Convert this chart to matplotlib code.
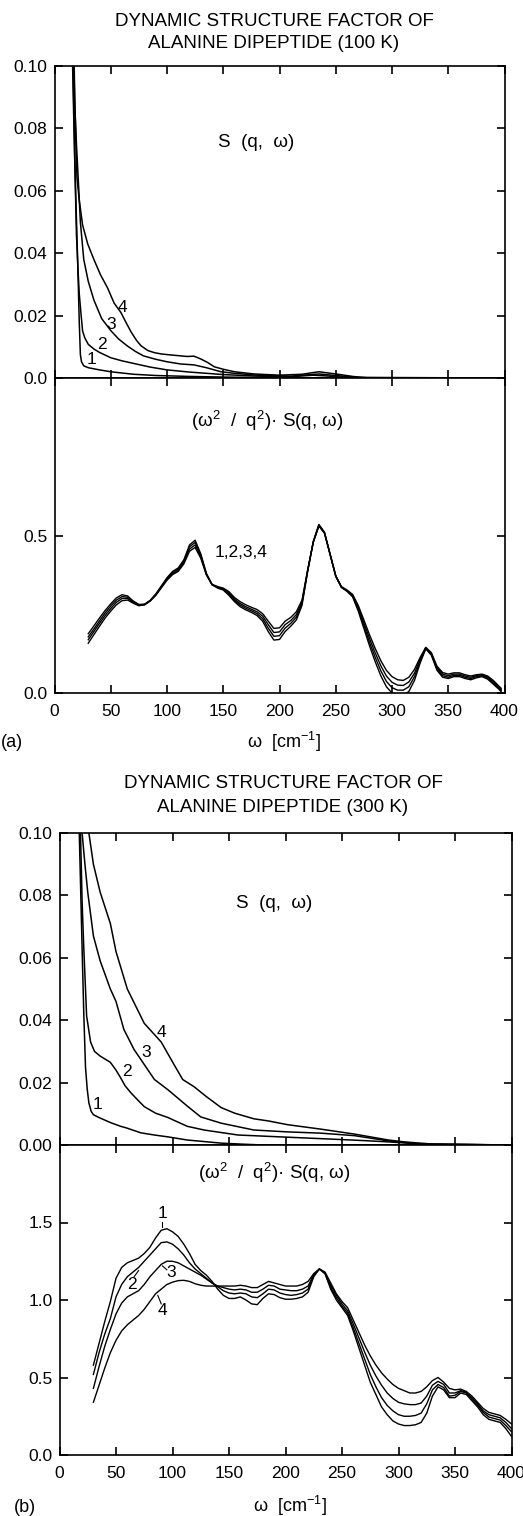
import matplotlib
matplotlib.use("Agg")
import matplotlib.pyplot as plt
import numpy as np

plt.rcParams['font.family'] = ['Liberation Sans', 'DejaVu Sans']
plt.rcParams['font.size'] = 12

# ---------------- panel (a): 100 K ----------------
# S(q, w) curves 1..4 (each with its own frequency points, cm^-1)
a_s1_w = [15.5, 17, 18, 19, 20, 21, 22, 23, 24, 26, 30, 40, 50, 70, 90, 120, 150, 200, 250, 400]
a_s1 = [0.11, 0.085, 0.07, 0.057, 0.045, 0.032, 0.018, 0.0075, 0.0052, 0.0039, 0.0033, 0.0026, 0.002,
        0.0012, 0.0008, 0.0005, 0.0003, 0.0001, 0.0, 0.0]
a_s2_w = [16, 17, 18, 19.5, 21, 22, 23.7, 25, 27, 30, 35, 40, 50, 60, 70, 85, 100, 120, 150, 180,
          210, 230, 240, 260, 400]
a_s2 = [0.11, 0.09, 0.07, 0.046, 0.034, 0.027, 0.02, 0.015, 0.0128, 0.0108, 0.0093, 0.0082, 0.0065,
        0.0055, 0.0047, 0.0035, 0.0026, 0.0019, 0.0011, 0.0006, 0.0004, 0.0009, 0.0007, 0.0002, 0.0]
a_s3_w = [16.5, 18, 19.5, 21.5, 23, 26, 30, 35, 42, 50, 57, 65, 72, 79, 90, 100, 112, 124, 135, 148,
          160, 180, 210, 235, 250, 270, 400]
a_s3 = [0.11, 0.088, 0.075, 0.061, 0.05, 0.038, 0.031, 0.025, 0.019, 0.0152, 0.0125, 0.0102, 0.0085,
        0.0071, 0.006, 0.0052, 0.0045, 0.0042, 0.0033, 0.002, 0.0015, 0.0009, 0.0006, 0.0013, 0.0008,
        0.0001, 0.0]
a_s4_w = [17, 18, 19, 20, 22, 25, 29.5, 35, 41, 47, 53, 59, 64, 68, 73, 77, 83, 89, 95, 103, 112, 118,
          124, 130, 136, 142, 150, 160, 177, 200, 220, 235, 250, 265, 280, 400]
a_s4 = [0.11, 0.09, 0.075, 0.064, 0.057, 0.049, 0.043, 0.038, 0.033, 0.029, 0.024, 0.021, 0.0175,
        0.0148, 0.012, 0.0103, 0.0088, 0.0081, 0.0077, 0.0074, 0.0071, 0.0069, 0.007, 0.0061, 0.005,
        0.0036, 0.0028, 0.002, 0.0013, 0.0009, 0.0012, 0.002, 0.0013, 0.0005, 0.0, 0.0]

# (w^2/q^2) S(q, w), curves 1..4
a_w = [30, 35, 40, 45, 50, 55, 60, 65, 70, 75, 80, 85, 90, 95, 100, 105, 110, 115, 120, 125, 130,
       135, 140, 145, 150, 155, 160, 165, 170, 175, 180, 185, 190, 195, 200, 205, 210, 215, 220, 225,
       230, 235, 240, 245, 250, 255, 260, 265, 270, 275, 280, 285, 290, 295, 300, 305, 310, 315, 320,
       325, 330, 335, 340, 345, 350, 355, 360, 365, 370, 375, 380, 385, 390, 395, 397]
a_f1 = [0.188, 0.213, 0.238, 0.262, 0.283, 0.302, 0.312, 0.308, 0.292, 0.281, 0.282, 0.294, 0.314,
        0.34, 0.366, 0.386, 0.397, 0.423, 0.47, 0.485, 0.442, 0.38, 0.344, 0.333, 0.327, 0.31, 0.29,
        0.274, 0.264, 0.256, 0.246, 0.228, 0.195, 0.168, 0.17, 0.195, 0.212, 0.232, 0.278, 0.385,
        0.48, 0.535, 0.51, 0.44, 0.37, 0.335, 0.323, 0.305, 0.26, 0.205, 0.15, 0.1, 0.055, 0.02, 0.0,
        -0.008, -0.008, 0.005, 0.04, 0.095, 0.14, 0.12, 0.072, 0.05, 0.046, 0.052, 0.052, 0.046,
        0.042, 0.048, 0.052, 0.044, 0.028, 0.012, 0.004]
a_f2 = [0.178, 0.203, 0.229, 0.254, 0.276, 0.295, 0.306, 0.304, 0.29, 0.28, 0.281, 0.293, 0.313,
        0.338, 0.363, 0.383, 0.393, 0.419, 0.464, 0.478, 0.438, 0.378, 0.344, 0.335, 0.329, 0.314,
        0.294, 0.279, 0.269, 0.261, 0.252, 0.236, 0.206, 0.18, 0.182, 0.206, 0.221, 0.241, 0.284,
        0.387, 0.48, 0.534, 0.509, 0.44, 0.371, 0.336, 0.324, 0.308, 0.266, 0.214, 0.161, 0.114,
        0.071, 0.037, 0.017, 0.009, 0.009, 0.02, 0.052, 0.101, 0.142, 0.122, 0.076, 0.055, 0.05,
        0.056, 0.056, 0.05, 0.046, 0.052, 0.055, 0.048, 0.032, 0.015, 0.008]
a_f3 = [0.169, 0.195, 0.221, 0.246, 0.268, 0.288, 0.3, 0.3, 0.288, 0.278, 0.28, 0.292, 0.311, 0.336,
        0.36, 0.379, 0.389, 0.414, 0.457, 0.47, 0.433, 0.376, 0.344, 0.336, 0.331, 0.318, 0.298,
        0.284, 0.274, 0.266, 0.258, 0.244, 0.217, 0.192, 0.194, 0.217, 0.23, 0.249, 0.289, 0.389,
        0.479, 0.532, 0.508, 0.44, 0.372, 0.337, 0.325, 0.31, 0.272, 0.223, 0.173, 0.128, 0.087,
        0.054, 0.034, 0.025, 0.024, 0.035, 0.063, 0.107, 0.144, 0.125, 0.08, 0.06, 0.055, 0.06, 0.06,
        0.054, 0.05, 0.055, 0.058, 0.051, 0.036, 0.018, 0.011]
a_f4 = [0.158, 0.185, 0.212, 0.238, 0.26, 0.28, 0.293, 0.295, 0.285, 0.277, 0.28, 0.292, 0.31, 0.334,
        0.358, 0.376, 0.386, 0.41, 0.45, 0.462, 0.428, 0.375, 0.345, 0.338, 0.333, 0.322, 0.303,
        0.29, 0.28, 0.272, 0.265, 0.252, 0.228, 0.205, 0.207, 0.228, 0.24, 0.258, 0.295, 0.39, 0.478,
        0.53, 0.507, 0.44, 0.372, 0.338, 0.327, 0.313, 0.278, 0.232, 0.185, 0.142, 0.103, 0.072,
        0.052, 0.042, 0.04, 0.05, 0.075, 0.113, 0.145, 0.128, 0.085, 0.065, 0.06, 0.064, 0.064, 0.058,
        0.054, 0.058, 0.06, 0.054, 0.04, 0.022, 0.015]

# ---------------- panel (b): 300 K ----------------
b_s1_w = [16.5, 17.5, 19, 20, 21.5, 23, 24.5, 26, 28, 30, 35, 45, 54, 59, 72, 84, 96, 113, 125, 143,
          160, 180, 400]
b_s1 = [0.11, 0.10, 0.078, 0.063, 0.042, 0.025, 0.018, 0.0135, 0.0108, 0.0097, 0.0088, 0.0072, 0.006,
        0.0055, 0.0039, 0.0032, 0.0026, 0.0016, 0.0012, 0.0006, 0.0003, 0.0, 0.0]
b_s2_w = [17.5, 18.6, 20, 21.5, 24, 27.5, 31, 36, 45, 50, 54, 58, 63, 69, 75, 85, 96, 113, 128, 158,
          202, 246, 270, 291, 320, 400]
b_s2 = [0.11, 0.10, 0.078, 0.063, 0.0414, 0.033, 0.030, 0.0285, 0.0265, 0.024, 0.0216, 0.019, 0.0168,
        0.0145, 0.0123, 0.0102, 0.0088, 0.006, 0.0048, 0.0032, 0.0025, 0.0018, 0.0014, 0.001, 0.0003,
        0.0]
b_s3_w = [19, 20, 22.5, 25, 30, 36, 45, 50, 57, 66, 78, 84, 96, 113, 125, 143, 172, 202, 231, 261,
          291, 320, 400]
b_s3 = [0.11, 0.10, 0.09, 0.081, 0.067, 0.059, 0.05, 0.046, 0.037, 0.0306, 0.0242, 0.021, 0.0177,
        0.0125, 0.009, 0.007, 0.0048, 0.0042, 0.0038, 0.003, 0.0013, 0.0003, 0.0]
b_s4_w = [24, 30, 36, 45, 50, 60, 75, 90, 101, 109, 119, 130, 143, 155, 172, 185, 202, 231, 261, 291,
          305, 330, 400]
b_s4 = [0.105, 0.09, 0.081, 0.071, 0.062, 0.05, 0.039, 0.033, 0.026, 0.021, 0.0187, 0.0155, 0.012,
        0.0102, 0.0084, 0.0077, 0.0065, 0.0051, 0.0035, 0.0016, 0.001, 0.0003, 0.0]

b_w = [30, 35, 40, 45, 50, 55, 60, 65, 70, 75, 80, 85, 90, 95, 100, 105, 110, 115, 120, 125, 130,
       135, 140, 145, 150, 155, 160, 165, 170, 175, 180, 185, 190, 195, 200, 205, 210, 215, 220, 225,
       230, 235, 240, 245, 250, 255, 260, 265, 270, 275, 280, 285, 290, 295, 300, 305, 310, 315, 320,
       325, 330, 335, 340, 345, 350, 355, 360, 365, 370, 375, 380, 385, 390, 395, 400]
b_f1 = [0.58, 0.72, 0.86, 0.99, 1.14, 1.21, 1.24, 1.255, 1.27, 1.30, 1.34, 1.40, 1.45, 1.46, 1.44,
        1.41, 1.36, 1.30, 1.23, 1.19, 1.16, 1.12, 1.07, 1.03, 1.01, 1.01, 1.02, 1.00, 0.975, 0.97, 1.01,
        1.04, 1.035, 1.015, 1.005, 1.005, 1.01, 1.02, 1.05, 1.15, 1.20, 1.17, 1.07, 1.00, 0.95, 0.90,
        0.80, 0.69, 0.58, 0.47, 0.39, 0.31, 0.26, 0.22, 0.20, 0.19, 0.19, 0.195, 0.21, 0.27, 0.38, 0.44,
        0.42, 0.37, 0.37, 0.40, 0.39, 0.35, 0.31, 0.26, 0.23, 0.22, 0.21, 0.17, 0.12]
b_f2 = [0.52, 0.66, 0.78, 0.88, 1.02, 1.10, 1.15, 1.18, 1.21, 1.25, 1.29, 1.33, 1.37, 1.375, 1.36,
        1.33, 1.29, 1.24, 1.20, 1.17, 1.14, 1.11, 1.085, 1.06, 1.045, 1.04, 1.045, 1.04, 1.02, 1.015,
        1.04, 1.07, 1.065, 1.045, 1.035, 1.03, 1.035, 1.045, 1.07, 1.16, 1.20, 1.17, 1.08, 1.015, 0.96,
        0.915, 0.82, 0.72, 0.62, 0.52, 0.44, 0.37, 0.32, 0.285, 0.26, 0.25, 0.25, 0.255, 0.27, 0.33,
        0.42, 0.455, 0.435, 0.38, 0.385, 0.41, 0.40, 0.36, 0.32, 0.275, 0.245, 0.235, 0.225, 0.19, 0.15]
b_f3 = [0.43, 0.57, 0.70, 0.81, 0.91, 0.98, 1.02, 1.04, 1.06, 1.10, 1.15, 1.19, 1.23, 1.25, 1.25,
        1.24, 1.22, 1.20, 1.18, 1.16, 1.135, 1.11, 1.09, 1.08, 1.07, 1.065, 1.07, 1.065, 1.05, 1.05,
        1.07, 1.095, 1.09, 1.07, 1.065, 1.06, 1.06, 1.07, 1.09, 1.165, 1.20, 1.175, 1.095, 1.03, 0.975,
        0.93, 0.845, 0.755, 0.665, 0.58, 0.51, 0.45, 0.40, 0.365, 0.34, 0.33, 0.325, 0.325, 0.335, 0.38,
        0.45, 0.475, 0.455, 0.40, 0.40, 0.415, 0.405, 0.37, 0.33, 0.285, 0.26, 0.25, 0.24, 0.21, 0.17]
b_f4 = [0.34, 0.45, 0.56, 0.66, 0.74, 0.80, 0.84, 0.87, 0.90, 0.94, 0.99, 1.04, 1.07, 1.10, 1.115,
        1.125, 1.127, 1.12, 1.105, 1.095, 1.09, 1.09, 1.09, 1.09, 1.09, 1.09, 1.095, 1.09, 1.08, 1.08,
        1.10, 1.12, 1.11, 1.10, 1.09, 1.09, 1.09, 1.10, 1.12, 1.17, 1.20, 1.18, 1.11, 1.04, 0.99, 0.95,
        0.87, 0.79, 0.71, 0.64, 0.58, 0.53, 0.49, 0.455, 0.43, 0.415, 0.40, 0.40, 0.41, 0.44, 0.48,
        0.50, 0.47, 0.43, 0.42, 0.425, 0.41, 0.38, 0.34, 0.30, 0.275, 0.265, 0.255, 0.23, 0.20]

x_ticks = [0, 50, 100, 150, 200, 250, 300, 350, 400]

W, H = 523.0, 1516.0


def rect(x0, x1, ytop, ybot):
    return [x0 / W, 1 - ybot / H, (x1 - x0) / W, (ybot - ytop) / H]


def style(ax):
    for s in ax.spines.values():
        s.set_linewidth(1.2)
    ax.tick_params(direction='in', length=6, width=1.2, top=True, right=True,
                   labelsize=12.5, pad=5)
    ax.set_xlim(0, 400)
    ax.set_xticks(x_ticks)


fig = plt.figure(figsize=(5.23, 15.16), dpi=100)

panels = [
    dict(x0=54.5, x1=504.5, ytop=66, ymid=378, ybot=693,
         s=[(a_s1_w, a_s1), (a_s2_w, a_s2), (a_s3_w, a_s3), (a_s4_w, a_s4)],
         f=[a_f1, a_f2, a_f3, a_f4], fw=a_w, ylim2=1.0,
         yt1=['0.0', '0.02', '0.04', '0.06', '0.08', '0.10'],
         yt2=[0.0, 0.5, 1.0], yl2=['0.0', '0.5', ''],
         title=("DYNAMIC STRUCTURE FACTOR OF", "ALANINE DIPEPTIDE (100 K)"),
         ty=(21, 43), tx=274, letter='(a)', lx=12, ly=743),
    dict(x0=59.5, x1=511.5, ytop=833, ymid=1145, ybot=1455,
         s=[(b_s1_w, b_s1), (b_s2_w, b_s2), (b_s3_w, b_s3), (b_s4_w, b_s4)],
         f=[b_f1, b_f2, b_f3, b_f4], fw=b_w, ylim2=2.0,
         yt1=['0.00', '0.02', '0.04', '0.06', '0.08', '0.10'],
         yt2=[0.0, 0.5, 1.0, 1.5, 2.0], yl2=['0.0', '0.5', '1.0', '1.5', ''],
         title=("DYNAMIC STRUCTURE FACTOR OF", "ALANINE DIPEPTIDE (300 K)"),
         ty=(784, 807), tx=283, letter='(b)', lx=25, ly=1507),
]

axes = []
for p in panels:
    ax1 = fig.add_axes(rect(p['x0'], p['x1'], p['ytop'], p['ymid']))
    ax2 = fig.add_axes(rect(p['x0'], p['x1'], p['ymid'], p['ybot']))
    style(ax1)
    style(ax2)
    for w, s in p['s']:
        ax1.plot(w, s, color='black', lw=1.1)
    ax1.set_ylim(0, 0.1)
    ax1.set_yticks([0, 0.02, 0.04, 0.06, 0.08, 0.10])
    ax1.set_yticklabels(p['yt1'])
    ax1.tick_params(labelbottom=False)
    for f in p['f']:
        ax2.plot(p['fw'], f, color='black', lw=1.0)
    ax2.set_ylim(0, p['ylim2'])
    ax2.set_yticks(p['yt2'])
    ax2.set_yticklabels(p['yl2'])
    ax2.tick_params(axis='x', pad=8)
    xc = (p['x0'] + p['x1']) / 2
    fig.text(p['tx'] / W, 1 - p['ty'][0] / H, p['title'][0], ha='center', va='center', fontsize=13.5)
    fig.text(p['tx'] / W, 1 - p['ty'][1] / H, p['title'][1], ha='center', va='center', fontsize=13.5)
    fig.text(p['lx'] / W, 1 - p['ly'] / H, p['letter'], ha='center', va='center', fontsize=13)
    fig.text((xc + 4) / W, 1 - (p['ly'] - 1) / H, r'ω  [cm$\mathregular{^{-1}}$]', ha='center',
             va='center', fontsize=13)
    axes.append((ax1, ax2))

(a1, a2), (b1, b2) = axes

sq_label = r'($\mathregular{\omega^2}$  /  $\mathregular{q^2}$)· S(q, ω)'

# panel (a) annotations
a1.text(179, 0.0756, 'S  (q,  ω)', ha='center', va='center', fontsize=13.5)
for lab, xx, yy in [('1', 33, 0.0058), ('2', 42, 0.0106), ('3', 50, 0.017), ('4', 60, 0.0225)]:
    a1.text(xx, yy, lab, ha='center', va='center', fontsize=12.5)
a2.text(189, 0.863, sq_label, ha='center', va='center', fontsize=13.5)
a2.text(166, 0.446, '1,2,3,4', ha='center', va='center', fontsize=12.5)

# panel (b) annotations
b1.text(190, 0.0774, 'S  (q,  ω)', ha='center', va='center', fontsize=13.5)
for lab, xx, yy in [('1', 33.5, 0.0129), ('2', 60, 0.0235), ('3', 77, 0.0297), ('4', 90, 0.036)]:
    b1.text(xx, yy, lab, ha='center', va='center', fontsize=12.5)
b2.text(190, 1.82, sq_label, ha='center', va='center', fontsize=13.5)
for lab, tx, ty, lx, ly in [('1', 91, 1.56, (91, 91), (1.47, 1.505)),
                            ('2', 64, 1.10, (66, 70), (1.15, 1.19)),
                            ('3', 99, 1.175, (91, 95), (1.22, 1.195)),
                            ('4', 91, 0.93, (87, 90), (1.03, 0.975))]:
    b2.text(tx, ty, lab, ha='center', va='center', fontsize=12.5)
    b2.plot(lx, ly, color='black', lw=0.8)

fig.savefig('out.png', dpi=100)
